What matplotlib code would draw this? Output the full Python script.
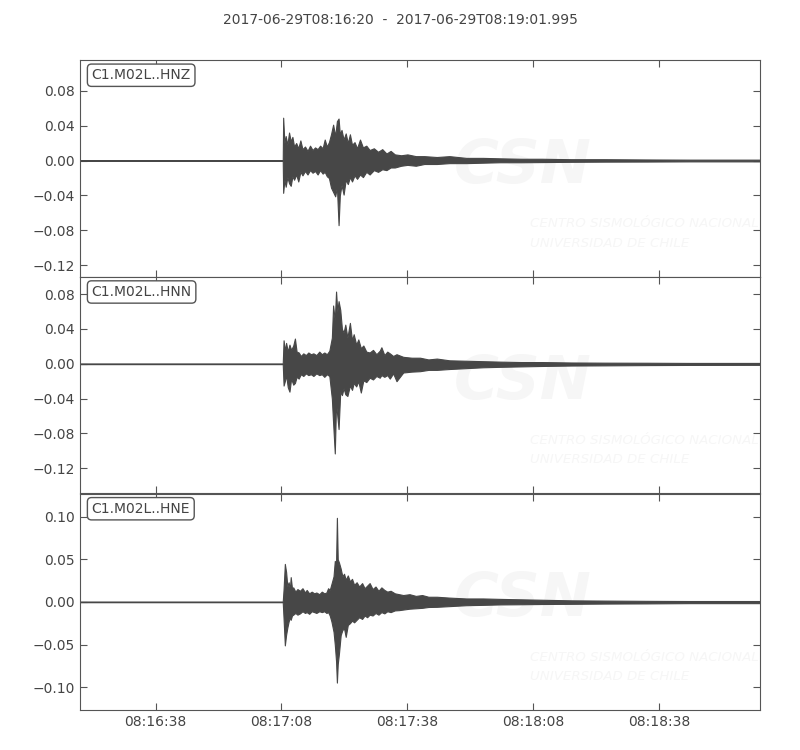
import numpy as np
import matplotlib
matplotlib.use("Agg")
import matplotlib.pyplot as plt
from matplotlib.ticker import FixedLocator

# seconds since 2017-06-29T08:16:20, envelope (max/min) of each trace
z_time = [0, 48.3, 48.4, 48.7, 49.0, 49.4, 49.8, 50.2, 50.6, 51.0, 51.5, 52.0, 52.5, 53.0, 53.6,
          54.2, 54.8, 55.4, 56.0, 56.6, 57.2, 57.8, 58.3, 58.8, 59.3, 59.8, 60.3, 60.8, 61.2,
          61.6, 61.9, 62.3, 62.8, 63.3, 63.8, 64.3, 64.8, 65.4, 66.0, 66.7, 67.4, 68.2, 69.0,
          70.0, 71.0, 72.0, 73.0, 74.0, 75.0, 76.5, 78, 80, 82, 85, 88, 92, 96, 100, 105, 110,
          117, 125, 135, 145, 162]
z_upper = [0.0004, 0.0004, 0.049, 0.020, 0.028, 0.018, 0.032, 0.022, 0.027, 0.016, 0.020, 0.014,
           0.023, 0.013, 0.016, 0.011, 0.017, 0.012, 0.015, 0.013, 0.017, 0.014, 0.024, 0.016,
           0.021, 0.030, 0.041, 0.028, 0.045, 0.048, 0.030, 0.035, 0.024, 0.031, 0.020, 0.030,
           0.018, 0.021, 0.014, 0.024, 0.015, 0.017, 0.012, 0.014, 0.010, 0.013, 0.008, 0.011,
           0.007, 0.006, 0.007, 0.005, 0.005, 0.004, 0.005, 0.003, 0.003, 0.0025, 0.002, 0.002,
           0.0015, 0.0015, 0.0012, 0.001, 0.001]
z_lower = [-0.0004, -0.0004, -0.037, -0.022, -0.030, -0.019, -0.026, -0.029, -0.018, -0.022,
           -0.016, -0.024, -0.013, -0.017, -0.012, -0.016, -0.011, -0.014, -0.012, -0.016,
           -0.011, -0.015, -0.013, -0.018, -0.020, -0.031, -0.036, -0.041, -0.030, -0.074,
           -0.040, -0.028, -0.039, -0.022, -0.027, -0.019, -0.024, -0.017, -0.021, -0.016,
           -0.019, -0.013, -0.016, -0.011, -0.013, -0.010, -0.011, -0.008, -0.008, -0.006,
           -0.005, -0.006, -0.004, -0.004, -0.003, -0.003, -0.0025, -0.002, -0.002, -0.0018,
           -0.0015, -0.0013, -0.0012, -0.001, -0.001]

n_time = [0, 48.3, 48.5, 48.8, 49.1, 49.5, 49.9, 50.3, 50.8, 51.2, 51.6, 52.1, 52.6, 53.2, 53.8,
          54.4, 55.0, 55.6, 56.3, 57.0, 57.6, 58.2, 58.8, 59.4, 60.0, 60.3, 60.7, 61.0, 61.3,
          61.6, 62.0, 62.4, 62.8, 63.2, 63.7, 64.3, 64.8, 65.2, 65.8, 66.3, 66.9, 67.5, 68.2,
          69.0, 69.8, 70.6, 71.4, 71.8, 72.5, 73.2, 73.8, 74.6, 75.4, 77.0, 79, 81, 83, 85, 88,
          92, 96, 100, 105, 110, 117, 125, 135, 145, 162]
n_upper = [0.0004, 0.0004, 0.027, 0.015, 0.024, 0.014, 0.022, 0.016, 0.021, 0.029, 0.014, 0.013,
           0.009, 0.012, 0.010, 0.013, 0.011, 0.012, 0.010, 0.014, 0.011, 0.013, 0.011, 0.015,
           0.030, 0.067, 0.050, 0.083, 0.060, 0.072, 0.062, 0.040, 0.036, 0.045, 0.030, 0.047,
           0.027, 0.034, 0.022, 0.028, 0.018, 0.021, 0.014, 0.013, 0.016, 0.011, 0.015, 0.019,
           0.010, 0.014, 0.012, 0.009, 0.011, 0.008, 0.007, 0.007, 0.005, 0.006, 0.004, 0.0035,
           0.003, 0.0025, 0.002, 0.002, 0.0015, 0.0013, 0.0012, 0.001, 0.001]
n_lower = [-0.0004, -0.0004, -0.025, -0.020, -0.013, -0.027, -0.032, -0.017, -0.024, -0.022,
           -0.015, -0.017, -0.012, -0.014, -0.011, -0.013, -0.012, -0.014, -0.011, -0.013,
           -0.012, -0.015, -0.012, -0.014, -0.040, -0.068, -0.103, -0.045, -0.060, -0.075,
           -0.032, -0.036, -0.028, -0.035, -0.037, -0.025, -0.030, -0.022, -0.026, -0.020,
           -0.033, -0.019, -0.021, -0.016, -0.018, -0.014, -0.016, -0.013, -0.015, -0.013,
           -0.017, -0.011, -0.020, -0.010, -0.009, -0.0085, -0.007, -0.007, -0.006, -0.005,
           -0.004, -0.0035, -0.003, -0.0025, -0.002, -0.0018, -0.0015, -0.0013, -0.0012]

e_time = [0, 48.3, 48.5, 48.8, 49.1, 49.4, 49.7, 50.0, 50.2, 50.5, 50.8, 51.3, 51.8, 52.4, 53.0,
          53.6, 54.0, 54.6, 55.2, 55.8, 56.3, 57.0, 57.6, 58.2, 58.7, 59.1, 59.5, 59.9, 60.4,
          60.7, 61.0, 61.2, 61.4, 61.7, 62.1, 62.5, 62.9, 63.3, 63.8, 64.3, 64.8, 65.3, 65.9,
          66.5, 67.2, 67.8, 68.4, 69.0, 69.7, 70.4, 71.1, 71.8, 72.5, 73.2, 74.0, 75.0, 76.0,
          77.0, 78.5, 80, 81.5, 83, 85, 88, 92, 96, 100, 105, 110, 117, 125, 135, 145, 162]
e_upper = [0.0004, 0.0004, 0.015, 0.0445, 0.035, 0.018, 0.023, 0.015, 0.029, 0.016, 0.017, 0.012,
           0.015, 0.013, 0.016, 0.011, 0.014, 0.010, 0.012, 0.010, 0.011, 0.009, 0.012, 0.010,
           0.011, 0.016, 0.014, 0.021, 0.030, 0.048, 0.045, 0.0985, 0.050, 0.046, 0.039, 0.030,
           0.033, 0.026, 0.031, 0.024, 0.027, 0.020, 0.023, 0.018, 0.022, 0.016, 0.019, 0.022,
           0.015, 0.018, 0.013, 0.017, 0.014, 0.012, 0.013, 0.010, 0.009, 0.008, 0.009, 0.007,
           0.008, 0.006, 0.006, 0.005, 0.004, 0.004, 0.0035, 0.003, 0.0025, 0.0018, 0.0015,
           0.0012, 0.001, 0.001]
e_lower = [-0.0004, -0.0004, -0.020, -0.051, -0.0386, -0.030, -0.023, -0.018, -0.021, -0.016,
           -0.015, -0.013, -0.015, -0.0135, -0.011, -0.013, -0.012, -0.014, -0.011, -0.012,
           -0.013, -0.011, -0.012, -0.011, -0.013, -0.012, -0.016, -0.023, -0.035, -0.050,
           -0.0695, -0.0946, -0.073, -0.060, -0.039, -0.033, -0.031, -0.041, -0.027, -0.025,
           -0.022, -0.024, -0.021, -0.018, -0.020, -0.016, -0.018, -0.015, -0.016, -0.013,
           -0.015, -0.012, -0.0135, -0.011, -0.012, -0.010, -0.0097, -0.009, -0.008, -0.0075,
           -0.007, -0.006, -0.0058, -0.005, -0.0039, -0.0035, -0.003, -0.0028, -0.0025,
           -0.0023, -0.002, -0.0018, -0.0015, -0.0015]

channels = ["C1.M02L..HNZ", "C1.M02L..HNN", "C1.M02L..HNE"]
y_limits = [(-0.133, 0.115), (-0.149, 0.100), (-0.127, 0.127)]
y_ticks = [[-0.12, -0.08, -0.04, 0.00, 0.04, 0.08],
           [-0.12, -0.08, -0.04, 0.00, 0.04, 0.08],
           [-0.10, -0.05, 0.00, 0.05, 0.10]]
x_ticks = [18, 48, 78, 108, 138]
x_labels = ["08:16:38", "08:17:08", "08:17:38", "08:18:08", "08:18:38"]
duration = 161.995
title = "2017-06-29T08:16:20  -  2017-06-29T08:19:01.995"

traces = [(z_time, z_upper, z_lower), (n_time, n_upper, n_lower), (e_time, e_upper, e_lower)]

trace_color = "#474747"
frame_color = "#555555"
text_color = "#444444"
mark_color = "#f6f6f6"


def fmt(v):
    s = "%.2f" % abs(v)
    return "\u2212" + s if v < 0 else s


fig = plt.figure(figsize=(8, 7.5), dpi=100)
fig.subplots_adjust(left=0.1, right=0.95, top=0.92, bottom=0.053, hspace=0)
axes = fig.subplots(3, 1, sharex=True)

for i, ax in enumerate(axes):
    t, up, lo = traces[i]
    # faint CSN watermark
    ax.text(0.55, 0.51, "CSN", transform=ax.transAxes, fontsize=44, fontweight="bold",
            style="italic", color=mark_color, ha="left", va="center", zorder=0, clip_on=True)
    ax.text(0.662, 0.245, "CENTRO SISMOLÓGICO NACIONAL", transform=ax.transAxes, fontsize=9.6,
            style="italic", color=mark_color, ha="left", va="center", zorder=0, clip_on=True)
    ax.text(0.662, 0.155, "UNIVERSIDAD DE CHILE", transform=ax.transAxes, fontsize=9.6,
            style="italic", color=mark_color, ha="left", va="center", zorder=0, clip_on=True)

    ax.fill_between(t, lo, up, color=trace_color, lw=0.8, zorder=2)
    ax.set_xlim(0, duration)
    ax.set_ylim(*y_limits[i])
    ax.yaxis.set_major_locator(FixedLocator(y_ticks[i]))
    ax.set_yticklabels([fmt(v) for v in y_ticks[i]])
    ax.xaxis.set_major_locator(FixedLocator(x_ticks))
    ax.tick_params(direction="in", length=5, top=True, right=True, colors=frame_color,
                   labelcolor=text_color, labelsize=10)
    for s in ax.spines.values():
        s.set_color(frame_color)
    ax.text(0.017, 0.962, channels[i], transform=ax.transAxes, fontsize=10, color=text_color,
            ha="left", va="top", zorder=5,
            bbox=dict(boxstyle="round,pad=0.3", fc="white", ec=frame_color, lw=1))

axes[-1].set_xticklabels(x_labels)
fig.text(0.5, 0.973, title, ha="center", va="center", fontsize=10, color=text_color)

fig.savefig("out.png", dpi=100)
